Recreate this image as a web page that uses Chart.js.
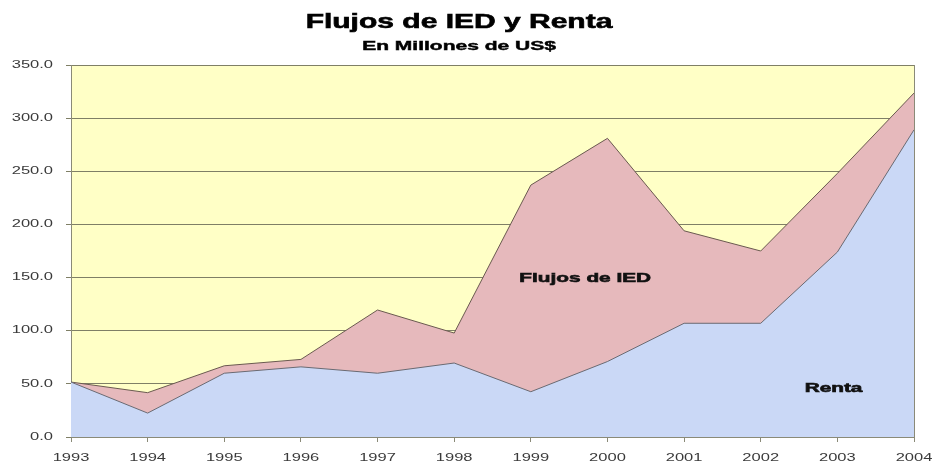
<!DOCTYPE html>
<html>
<head>
<meta charset="utf-8">
<script src="https://cdn.jsdelivr.net/npm/chart.js@4/dist/chart.umd.min.js"></script>
<style>
  html, body { margin: 0; padding: 0; background: #fff; }
  #wrap { width: 936px; height: 463px; }
</style>
</head>
<body>
<div id="wrap"><canvas id="chart" width="936" height="463"></canvas></div>
<script>
// Data
const years = ['1993', '1994', '1995', '1996', '1997', '1998', '1999', '2000', '2001', '2002', '2003', '2004'];
const flujosIED = [51.7, 41.7, 67, 73, 119.5, 97.8, 237, 281, 194, 175, 248, 323.6];
const renta = [51.7, 22.5, 60, 66, 60, 69.6, 42.6, 71, 107, 107, 174, 289];
const yTicks = [0, 50, 100, 150, 200, 250, 300, 350];

const chartTitle = 'Flujos de IED y Renta';
const chartSubtitle = 'En Millones de US$';

// labels drawn inside the areas, anchored to data coordinates
const areaLabels = [
    { text: 'Flujos de IED', x: 6.71, y: 149 },
    { text: 'Renta', x: 9.95, y: 46 }
];

const FONT = "'Liberation Sans', Arial, sans-serif";

// the reference text is drawn wide, so stretch it horizontally
function wideText(ctx, text, x, y, font, stretch, align, heavy) {
    ctx.save();
    ctx.font = font;
    ctx.textBaseline = 'middle';
    ctx.textAlign = align || 'center';
    ctx.translate(x, y);
    ctx.scale(stretch, 1);
    ctx.fillText(text, 0, 0);
    if (heavy) {
        ctx.strokeStyle = ctx.fillStyle;
        ctx.lineWidth = heavy;
        ctx.strokeText(text, 0, 0);
    }
    ctx.restore();
}

const textPlugin = {
    id: 'textPlugin',
    beforeDraw(chart) {
        const { ctx, chartArea: a } = chart;
        ctx.save();
        ctx.fillStyle = '#ffffc6';
        ctx.fillRect(a.left, a.top, a.right - a.left, a.bottom - a.top);
        ctx.restore();
    },
    afterDraw(chart) {
        const { ctx, chartArea: a, scales } = chart;
        ctx.save();
        ctx.strokeStyle = '#8a8a78';
        ctx.lineWidth = 1;
        ctx.beginPath();
        ctx.moveTo(a.right + 0.5, a.top);
        ctx.lineTo(a.right + 0.5, a.bottom);
        ctx.stroke();

        ctx.fillStyle = '#000';
        wideText(ctx, chartTitle, chart.width / 2 - 9, 22, 'bold 20px ' + FONT, 1.5, 'center', 0.6);
        wideText(ctx, chartSubtitle, chart.width / 2 - 9, 47, 'bold 12px ' + FONT, 1.75, 'center', 0.4);

        ctx.fillStyle = '#111';
        areaLabels.forEach(l => {
            wideText(ctx, l.text, scales.x.getPixelForValue(l.x), scales.y.getPixelForValue(l.y),
                'bold 13px ' + FONT, 1.6, 'center', 0.6);
        });

        ctx.fillStyle = '#3a3a3a';
        yTicks.forEach(v => {
            wideText(ctx, v.toFixed(1), 53, scales.y.getPixelForValue(v), '10px ' + FONT, 1.65, 'right');
        });
        years.forEach((y, i) => {
            wideText(ctx, y, scales.x.getPixelForValue(i), a.bottom + 21, '11px ' + FONT, 1.5);
        });
        ctx.restore();
    }
};

new Chart(document.getElementById('chart'), {
    type: 'line',
    data: {
        labels: years,
        datasets: [{
            label: 'Renta',
            data: renta,
            borderColor: '#6a6a72',
            borderWidth: 1,
            backgroundColor: '#cad8f6',
            fill: 'origin',
            pointRadius: 0,
            tension: 0
        }, {
            label: 'Flujos de IED',
            data: flujosIED,
            borderColor: '#6a5a50',
            borderWidth: 1,
            backgroundColor: '#e6b9bc',
            fill: 'origin',
            pointRadius: 0,
            tension: 0
        }]
    },
    options: {
        responsive: false,
        animation: false,
        layout: { padding: { left: 0, right: 22, top: 65, bottom: 0 } },
        plugins: {
            legend: { display: false },
            tooltip: { enabled: false },
            title: { display: false },
            subtitle: { display: false }
        },
        scales: {
            x: {
                offset: false,
                grid: { display: true, drawOnChartArea: false, tickLength: 5, color: '#8a8a78' },
                border: { color: '#8a8a78' },
                ticks: { display: false, autoSkip: false, maxRotation: 0 },
                afterFit(scale) { scale.height = 26; }
            },
            y: {
                min: 0,
                max: 350,
                afterBuildTicks(scale) { scale.ticks = yTicks.map(v => ({ value: v })); },
                grid: { color: '#7f7f66', lineWidth: 1, tickLength: 5 },
                border: { color: '#8a8a78' },
                ticks: { display: false },
                afterFit(scale) { scale.width = 71; }
            }
        }
    },
    plugins: [textPlugin]
});
</script>
</body>
</html>
